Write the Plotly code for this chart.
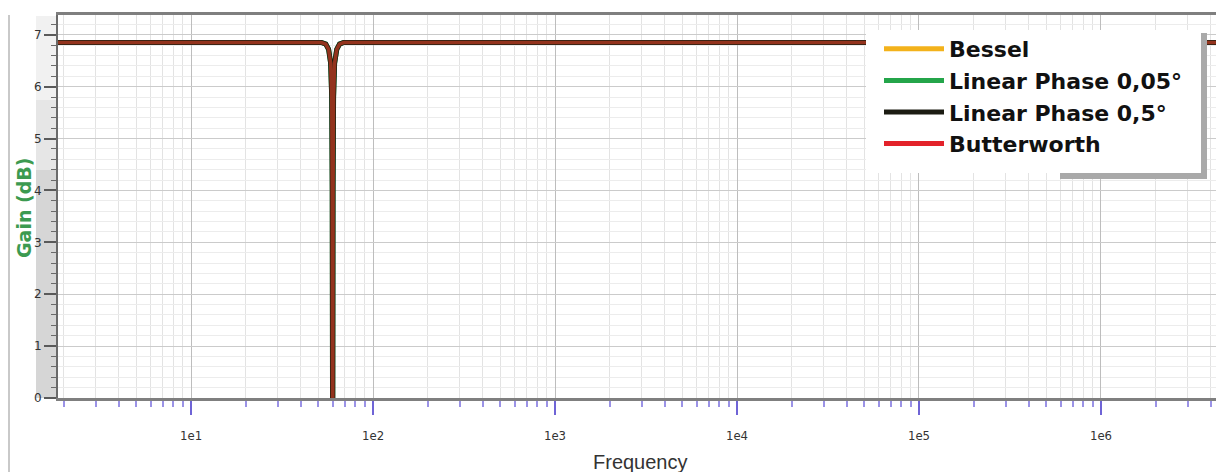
import plotly.graph_objects as go

# Frequency response of the 60 Hz notch, sampled by hand (Hz, dB)
freq_hz = [1.86, 52, 55, 57, 58.5, 59.3, 59.7, 60, 60.3, 60.7, 61.5, 63.2,
           65.5, 69, 100, 1e3, 1e4, 1e5, 1e6, 4.3e6]
gain_bessel = [6.85, 6.85, 6.82, 6.72, 6.45, 5.8, 4.0, -2, 4.0, 5.8, 6.45, 6.72,
               6.82, 6.85, 6.85, 6.85, 6.85, 6.85, 6.85, 6.85]
gain_lp005 = list(gain_bessel)
gain_lp05 = list(gain_bessel)
gain_butter = list(gain_bessel)

series_names = ["Bessel", "Linear Phase 0,05°", "Linear Phase 0,5°", "Butterworth"]
series_colors = ["#f3b21b", "#24a54a", "#1c1c12", "#e3222a"]

decade_vals = [10, 100, 1000, 10000, 100000, 1000000]
decade_text = ["1e1", "1e2", "1e3", "1e4", "1e5", "1e6"]

fig = go.Figure()

# overlapping curves: the dark one underneath, the others blended on top
curve_specs = [
    (gain_lp005, series_colors[1], 5, 1.0),
    (gain_lp05, series_colors[2], 5, 1.0),
    (gain_bessel, series_colors[0], 3.5, 0.25),
    (gain_butter, series_colors[3], 3.5, 0.45),
]
for gains, col, w, op in curve_specs:
    fig.add_trace(go.Scatter(x=freq_hz, y=gains, mode="lines",
                             line=dict(color=col, width=w), opacity=op,
                             showlegend=False, hoverinfo="skip"))

# legend entries
for name, col in zip(series_names, series_colors):
    fig.add_trace(go.Scatter(x=[None], y=[None], mode="lines", name=name,
                             line=dict(color=col, width=5)))

W, H = 1216, 472
L, T, B, R = 58, 15, 74, 0
pw = W - L - R
ph = H - T - B

def px_x(x):
    return (x - L) / pw

def px_y(y):
    return (H - B - y) / ph

shapes = [
    # grey band behind the y tick labels
    dict(type="rect", xref="paper", yref="paper", x0=px_x(36), x1=0,
         y0=0, y1=px_y(170), fillcolor="#d6d6d6", line_width=0, layer="below"),
    dict(type="rect", xref="paper", yref="paper", x0=px_x(36), x1=0,
         y0=px_y(170), y1=px_y(100), fillcolor="#e6e6e6", line_width=0, layer="below"),
    dict(type="rect", xref="paper", yref="paper", x0=px_x(36), x1=0,
         y0=px_y(100), y1=px_y(16), fillcolor="#f1f1f1", line_width=0, layer="below"),
    # outer frame line on the left
    dict(type="line", xref="paper", yref="paper", x0=px_x(9), x1=px_x(9),
         y0=px_y(472), y1=px_y(15), line=dict(color="#c9c9c9", width=2)),
    # legend panel with its drop shadow
    dict(type="rect", xref="paper", yref="paper", x0=px_x(1060), x1=px_x(1207),
         y0=px_y(179), y1=px_y(33), fillcolor="#a9a9a9", line_width=0, layer="above"),
    dict(type="rect", xref="paper", yref="paper", x0=px_x(866), x1=px_x(1201),
         y0=px_y(173), y1=px_y(30), fillcolor="white", line_width=0, layer="above"),
]

fig.update_layout(
    width=W, height=H,
    margin=dict(l=L, r=R, t=T, b=B, pad=0),
    paper_bgcolor="white", plot_bgcolor="white",
    showlegend=True,
    legend=dict(x=px_x(879), y=px_y(28), xanchor="left", yanchor="top",
                bgcolor="rgba(0,0,0,0)", borderwidth=0, itemwidth=60,
                font=dict(family="DejaVu Sans", size=22, color="#111111",
                          weight="bold")),
    shapes=shapes,
    xaxis=dict(type="log", range=[0.269, 6.632],
               tickmode="array", tickvals=decade_vals, ticktext=decade_text,
               ticks="outside", ticklen=14, tickwidth=2, tickcolor="#6f64d6",
               ticklabelstandoff=9,
               tickfont=dict(family="DejaVu Sans Condensed, DejaVu Sans", size=13,
                             color="#333333"),
               showline=True, linecolor="#7f7f7f", linewidth=3, mirror=True,
               showgrid=True, gridcolor="#bdbdbd", gridwidth=1.2,
               minor=dict(dtick="D1", ticks="outside", ticklen=6, tickwidth=2,
                          tickcolor="#9b93e6", showgrid=True, gridcolor="#e3e3e3",
                          gridwidth=1),
               zeroline=False),
    yaxis=dict(range=[0, 7.38], tickmode="linear", tick0=0, dtick=1,
               ticks="outside", ticklen=12, tickwidth=2, tickcolor="#5a5a5a",
               tickfont=dict(family="DejaVu Sans", size=12, color="#333333"),
               showline=True, linecolor="#6a6a6a", linewidth=2,
               showgrid=True, gridcolor="#cbcbcb", gridwidth=1.2,
               minor=dict(dtick=0.2, ticks="outside", ticklen=5, tickwidth=1,
                          tickcolor="#6a6a6a", showgrid=True, gridcolor="#ececec",
                          gridwidth=1),
               zeroline=False),
    annotations=[
        dict(text="Gain (dB)", xref="paper", yref="paper", x=px_x(24), y=px_y(208),
             xanchor="center", yanchor="middle", textangle=-90, showarrow=False,
             font=dict(family="DejaVu Sans", size=19, color="#3c9a50", weight="bold")),
        dict(text="Frequency", xref="paper", yref="paper", x=px_x(640), y=px_y(462),
             xanchor="center", yanchor="middle", showarrow=False,
             font=dict(family="Liberation Sans Narrow, Liberation Sans", size=20,
                       color="#333333")),
    ],
)

fig.write_html("out.html")
